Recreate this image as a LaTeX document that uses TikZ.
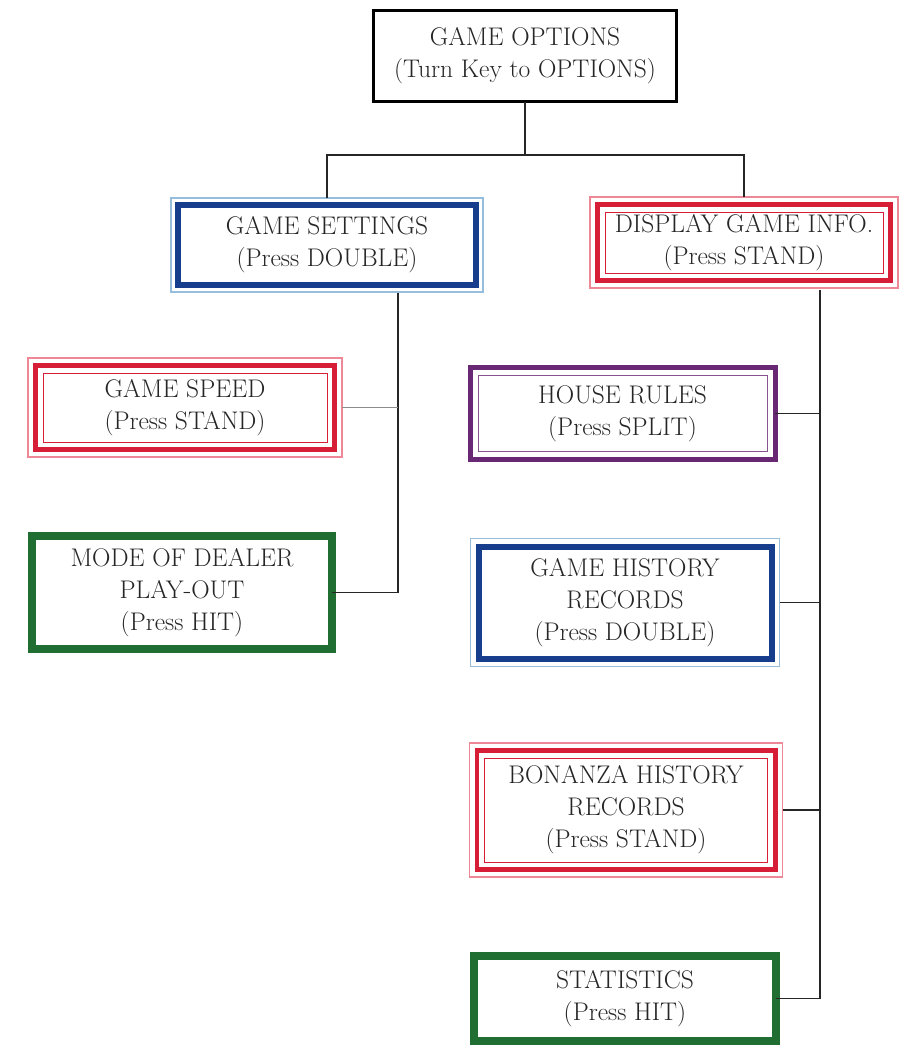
\documentclass[tikz,border=0pt]{standalone}
\usetikzlibrary{calc}
\definecolor{myblue}{RGB}{22,62,140}
\definecolor{lightblue}{RGB}{150,190,220}
\definecolor{myred}{RGB}{215,30,55}
\definecolor{lightred}{RGB}{238,135,150}
\definecolor{mygreen}{RGB}{32,110,50}
\definecolor{mypurple}{RGB}{105,40,115}
\tikzset{
  base/.style={rectangle, inner sep=0pt, outer sep=0pt, align=center,
    font=\fontsize{25.5}{32}\selectfont, text=black!85},
  blackbox/.style={base, draw=black, line width=3pt},
  bluebox/.style={base, draw=myblue, line width=6pt},
  redbox/.style={base, draw=myred, line width=4.5pt},
  greenbox/.style={base, draw=mygreen, line width=8pt},
  purplebox/.style={base, draw=mypurple, line width=5pt},
  conn/.style={line width=1.6pt, black!85},
  connthin/.style={line width=1.2pt, black!45},
}
\newcommand{\myframeline}[3]{\draw[#3] ([shift={(-#2,#2)}]#1.north west) rectangle ([shift={(#2,-#2)}]#1.south east);}
\begin{document}
\begin{tikzpicture}[x=1pt,y=-1pt]
\fill[white] (0,0) rectangle (899,1060);
\useasboundingbox (0,0) rectangle (899,1060);

% boxes
\node[blackbox, minimum width=303pt, minimum height=91.5pt] (top) at (525,55.75)
  {GAME OPTIONS\\(Turn Key to OPTIONS)};
\node[bluebox, minimum width=298pt, minimum height=80pt] (gs) at (327,245)
  {GAME SETTINGS\\(Press DOUBLE)};
\node[redbox, minimum width=293pt, minimum height=76pt] (dgi) at (744,242.5)
  {DISPLAY GAME INFO.\\(Press STAND)};
\node[redbox, minimum width=299pt, minimum height=84pt] (spd) at (185,407.5)
  {GAME SPEED\\(Press STAND)};
\node[greenbox, minimum width=300pt, minimum height=113pt] (mode) at (182,592.5)
  {MODE OF DEALER\\PLAY-OUT\\(Press HIT)};
\node[purplebox, minimum width=305pt, minimum height=92pt] (hr) at (622.5,413.5)
  {HOUSE RULES\\(Press SPLIT)};
\node[bluebox, minimum width=293pt, minimum height=112pt] (ghr) at (625,602.5)
  {GAME HISTORY\\RECORDS\\(Press DOUBLE)};
\node[redbox, minimum width=298.5pt, minimum height=119pt] (bon) at (626,810)
  {BONANZA HISTORY\\RECORDS\\(Press STAND)};
\node[greenbox, minimum width=302pt, minimum height=85pt] (stat) at (625,998.5)
  {STATISTICS\\(Press HIT)};

% extra frame lines
\myframeline{gs}{7pt}{lightblue, line width=1.2pt}
\myframeline{ghr}{8pt}{lightblue, line width=1.2pt}
\foreach \n in {dgi,spd,bon}{
  \myframeline{\n}{7.5pt}{lightred, line width=1.2pt}
  \myframeline{\n}{-7.5pt}{myred, line width=1pt}
}
\myframeline{hr}{-8pt}{mypurple!80, line width=1pt}

% connectors
\coordinate (j) at (522,155);
\coordinate (gsb) at (398,293);
\coordinate (dv) at (820,290);
\draw[conn] (top.south) -- (top.south |- j);
\draw[conn] ([yshift=7pt]gs.north) |- (j) -| ([yshift=7.5pt]dgi.north);
\draw[conn] (gsb) |- (mode.east);
\draw[connthin] ([xshift=7.5pt]spd.east) -- (spd.east -| gsb);
\draw[conn] (dv) |- (stat.east);
\draw[conn] (hr.east) -- (hr.east -| dv);
\draw[conn] ([xshift=8pt]ghr.east) -- (ghr.east -| dv);
\draw[conn] ([xshift=7.5pt]bon.east) -- (bon.east -| dv);
\end{tikzpicture}
\end{document}
